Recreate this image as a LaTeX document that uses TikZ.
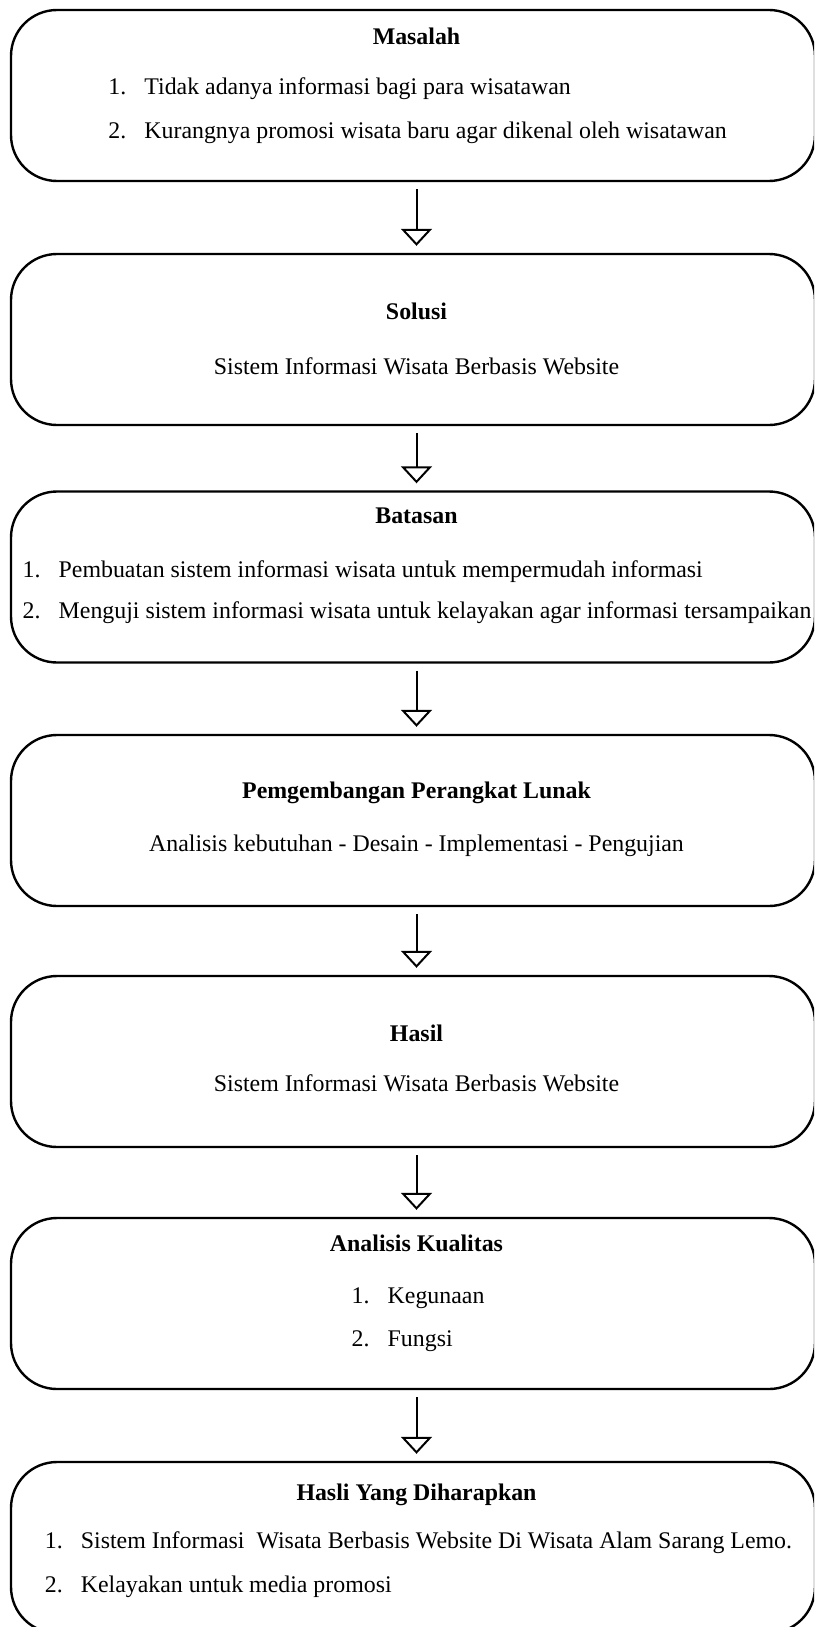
\documentclass[tikz,border=0pt]{standalone}
\usepackage{fontspec}
\setmainfont{Liberation Serif}
\usepackage{tikz}
\usetikzlibrary{arrows.meta}

\begin{document}
\begin{tikzpicture}[x = 0.5pt, y = -0.5pt,
  every node/.style = {font = \fontsize{11.93pt}{14pt}\selectfont, inner sep = 0pt},
  box/.style = {draw, line width = 1.2pt, rounded corners = 23pt, minimum width = 402pt, minimum height = 85.5pt},
  flow/.style = {line width = 1pt, shorten <= 3.5pt, shorten >= 3.5pt, -{Triangle[open, length = 8.5pt, width = 15.5pt]}}]
\useasboundingbox (0,0) rectangle (814,1627);
\fill[white] (0,0) rectangle (814,1627);
\clip (0,0) rectangle (814,1627);

% boxes
\node[box] (masalah) at (413, 95.5){};
\node[box] (solusi) at (413, 339.5){};
\node[box] (batasan) at (413, 577){};
\node[box] (pengembangan) at (413, 820.5){};
\node[box] (hasil) at (413, 1061.5){};
\node[box] (analisis) at (413, 1303.5){};
\node[box] (harapan) at (413, 1547.5){};

% arrows, on the axis of the titles
\coordinate (axis) at (416.5, 0);
\draw[flow] (masalah.south -| axis)--(solusi.north -| axis);
\draw[flow] (solusi.south -| axis)--(batasan.north -| axis);
\draw[flow] (batasan.south -| axis)--(pengembangan.north -| axis);
\draw[flow] (pengembangan.south -| axis)--(hasil.north -| axis);
\draw[flow] (hasil.south -| axis)--(analisis.north -| axis);
\draw[flow] (analisis.south -| axis)--(harapan.north -| axis);

% Masalah
\node[anchor = base] (masalah_t) at (416.5, 45){\textbf{Masalah}};
\node[anchor = base west] (masalah_1n) at (108, 95){1.};
\node[anchor = base west] (masalah_1) at (144, 95){Tidak adanya informasi bagi para wisatawan};
\node[anchor = base west] (masalah_2n) at (108, 139){2.};
\node[anchor = base west] (masalah_2) at (144, 139){Kurangnya promosi wisata baru agar dikenal oleh wisatawan};

% Solusi
\node[anchor = base] (solusi_t) at (416.5, 319){\textbf{Solusi}};
\node[anchor = base] (solusi_1) at (416.5, 374){Sistem Informasi Wisata Berbasis Website};

% Batasan
\node[anchor = base] (batasan_t) at (416.5, 523){\textbf{Batasan}};
\node[anchor = base west] (batasan_1n) at (22.3, 577){1.};
\node[anchor = base west] (batasan_1) at (58.3, 577){Pembuatan sistem informasi wisata untuk mempermudah informasi};
\node[anchor = base west] (batasan_2n) at (22.3, 618){2.};
\node[anchor = base west] (batasan_2) at (58.3, 618){Menguji sistem informasi wisata untuk kelayakan agar informasi tersampaikan};

% Pengembangan
\node[anchor = base] (pengembangan_t) at (416.5, 798.5){\textbf{Pemgembangan Perangkat Lunak}};
\node[anchor = base] (pengembangan_1) at (416.5, 851){Analisis kebutuhan - Desain - Implementasi - Pengujian};

% Hasil
\node[anchor = base] (hasil_t) at (416.5, 1041){\textbf{Hasil}};
\node[anchor = base] (hasil_1) at (416.5, 1091){Sistem Informasi Wisata Berbasis Website};

% Analisis kualitas
\node[anchor = base] (analisis_t) at (416.5, 1251.7){\textbf{Analisis Kualitas}};
\node[anchor = base west] (analisis_1n) at (351.3, 1303){1.};
\node[anchor = base west] (analisis_1) at (387.3, 1303){Kegunaan};
\node[anchor = base west] (analisis_2n) at (351.3, 1346.7){2.};
\node[anchor = base west] (analisis_2) at (387.3, 1346.7){Fungsi};

% Hasil yang diharapkan
\node[anchor = base] (harapan_t) at (416.5, 1500){\textbf{Hasli Yang Diharapkan}};
\node[anchor = base west] (harapan_1n) at (44.5, 1548.5){1.};
\node[anchor = base west] (harapan_1) at (80.5, 1548.5){Sistem Informasi~ Wisata Berbasis Website Di Wisata Alam Sarang Lemo.};
\node[anchor = base west] (harapan_2n) at (44.5, 1592){2.};
\node[anchor = base west] (harapan_2) at (80.5, 1592){Kelayakan untuk media promosi};
\end{tikzpicture}
\end{document}
